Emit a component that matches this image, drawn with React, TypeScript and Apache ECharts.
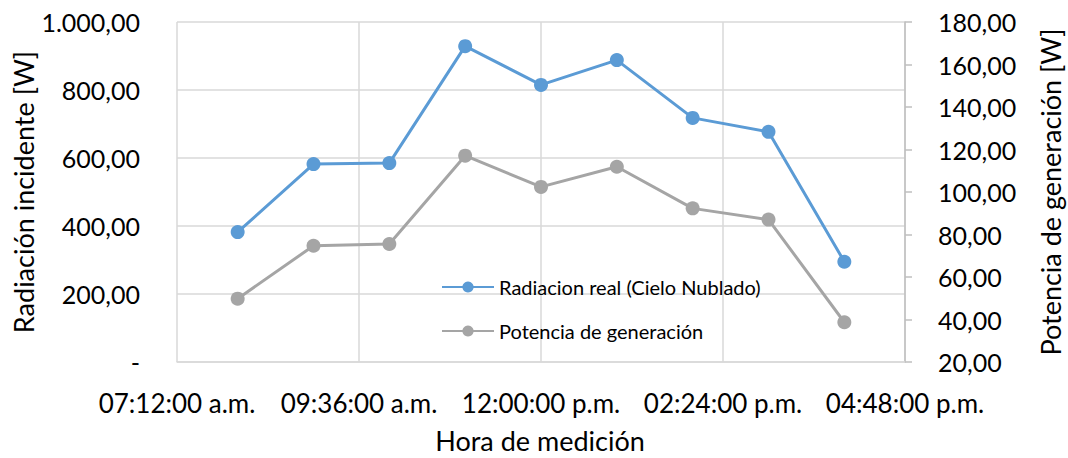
import React, { useEffect, useRef } from "react";
import * as echarts from "echarts";

const horas = ["08:00", "09:00", "10:00", "11:00", "12:00", "13:00", "14:00", "15:00", "16:00"];
const radiacion = [382, 582, 585, 929, 815, 888, 718, 677, 295];
const potencia = [49.8, 74.7, 75.5, 117.1, 102.4, 111.9, 92.3, 87.0, 38.7];
const serieNames = ["Radiacion real (Cielo Nublado)", "Potencia de generación"];
const xTitle = "Hora de medición";
const yLeftTitle = "Radiación incidente [W]";
const yRightTitle = "Potencia de generación [W]";

const toMin = (h: string) => {
  const [a, b] = h.split(":").map(Number);
  return a * 60 + b;
};

const pad = (n: number) => (n < 10 ? "0" + n : "" + n);
const fmtTime = (m: number) => {
  const h = Math.floor(m / 60);
  const mm = Math.round(m % 60);
  const ap = h < 12 ? "a.m." : "p.m.";
  const h12 = h % 12 === 0 ? 12 : h % 12;
  return `${pad(h12)}:${pad(mm)}:00 ${ap}`;
};
const fmtNum = (v: number) => {
  if (v === 0) return "-";
  const s = v.toFixed(2).split(".");
  const int = s[0].replace(/\B(?=(\d{3})+(?!\d))/g, ".");
  return int + "," + s[1];
};

const FONT = "Lato";

export default function App() {
  const ref = useRef<HTMLDivElement>(null);
  useEffect(() => {
    document.body.style.margin = "0";
    const chart = echarts.init(ref.current!, null, { renderer: "svg" });
    const txt = { color: "#000", fontFamily: FONT };
    const titleStyle = (text: string) => ({
      text,
      fill: "#000",
      font: `27px ${FONT}`,
      textAlign: "center",
      textVerticalAlign: "middle",
    });
    chart.setOption({
      animation: false,
      textStyle: { fontFamily: FONT },
      grid: { left: 177, right: 163, top: 22, bottom: 96, outerBoundsMode: "none", containLabel: false },
      graphic: [
        { type: "text", x: 540, y: 440, style: titleStyle(xTitle) },
        { type: "text", x: 23, y: 192, rotation: Math.PI / 2, style: titleStyle(yLeftTitle) },
        { type: "text", x: 1050, y: 192, rotation: Math.PI / 2, style: titleStyle(yRightTitle) },
      ],
      legend: {
        orient: "vertical",
        left: 436,
        top: 272,
        itemWidth: 52,
        itemHeight: 14,
        itemGap: 24,
        textStyle: { ...txt, fontSize: 20 },
        data: serieNames,
      },
      xAxis: {
        type: "value",
        min: 432,
        max: 1008,
        interval: 144,
        axisLine: { show: true, lineStyle: { color: "#d9d9d9", width: 1.5 } },
        axisTick: { show: false },
        splitLine: { show: true, lineStyle: { color: "#d9d9d9", width: 1.5 } },
        axisLabel: { ...txt, fontSize: 26, margin: 28, formatter: (v: number) => fmtTime(v) },
      },
      yAxis: [
        {
          type: "value",
          min: 0,
          max: 1000,
          interval: 200,
          axisLine: { show: false },
          axisTick: { show: false },
          splitLine: { show: true, lineStyle: { color: "#d9d9d9", width: 1.5 } },
          axisLabel: { ...txt, fontSize: 25, margin: 37, formatter: (v: number) => fmtNum(v) },
        },
        {
          type: "value",
          position: "right",
          min: 20,
          max: 180,
          interval: 20,
          axisLine: { show: true, lineStyle: { color: "#bfbfbf", width: 1.5 } },
          axisTick: { show: true, inside: false, length: 7, lineStyle: { color: "#bfbfbf", width: 1.5 } },
          splitLine: { show: false },
          axisLabel: { ...txt, fontSize: 25, margin: 33, formatter: (v: number) => fmtNum(v) },
        },
      ],
      series: [
        {
          name: serieNames[0],
          type: "line",
          yAxisIndex: 0,
          data: horas.map((h, i) => [toMin(h), radiacion[i]]),
          symbol: "circle",
          symbolSize: 14,
          lineStyle: { color: "#5B9BD5", width: 3 },
          itemStyle: { color: "#5B9BD5" },
        },
        {
          name: serieNames[1],
          type: "line",
          yAxisIndex: 1,
          data: horas.map((h, i) => [toMin(h), potencia[i]]),
          symbol: "circle",
          symbolSize: 14,
          lineStyle: { color: "#A5A5A5", width: 3 },
          itemStyle: { color: "#A5A5A5" },
        },
      ],
    });
    return () => chart.dispose();
  }, []);
  return <div ref={ref} style={{ width: 1068, height: 458 }} />;
}
